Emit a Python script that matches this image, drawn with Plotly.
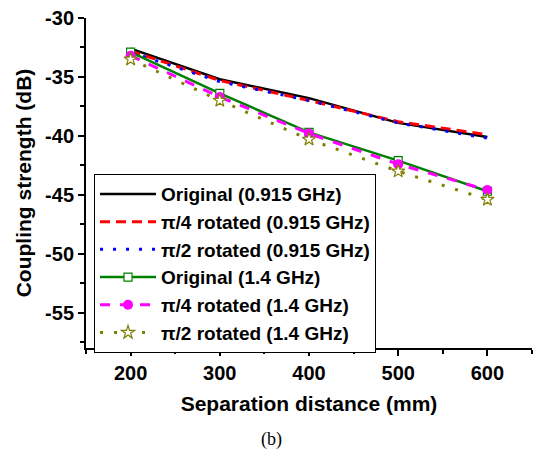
import plotly.graph_objects as go

x = [200, 300, 400, 500, 600]
orig_0915 = [-32.6, -35.2, -36.8, -38.9, -40.1]
rot4_0915 = [-32.8, -35.3, -37.0, -38.8, -39.9]
rot2_0915 = [-32.9, -35.4, -37.0, -38.9, -40.2]
orig_14 = [-32.9, -36.4, -39.7, -42.1, -44.7]
rot4_14 = [-33.2, -36.7, -39.8, -42.4, -44.6]
rot2_14 = [-33.5, -37.0, -40.3, -43.0, -45.4]

names = ["Original (0.915 GHz)", "π/4 rotated (0.915 GHz)", "π/2 rotated (0.915 GHz)",
         "Original (1.4 GHz)", "π/4 rotated (1.4 GHz)", "π/2 rotated (1.4 GHz)"]

yticks = [-30, -35, -40, -45, -50, -55]
xticks = [200, 300, 400, 500, 600]

fig = go.Figure()
fig.add_trace(go.Scatter(x=x, y=orig_0915, name=names[0], mode="lines",
                         line=dict(color="black", width=2.5)))
fig.add_trace(go.Scatter(x=x, y=rot4_0915, name=names[1], mode="lines",
                         line=dict(color="red", width=3, dash="10px,6px")))
fig.add_trace(go.Scatter(x=x, y=rot2_0915, name=names[2], mode="lines",
                         line=dict(color="blue", width=3, dash="3px,10px")))
fig.add_trace(go.Scatter(x=x, y=orig_14, name=names[3], mode="lines+markers",
                         line=dict(color="#008000", width=2.5),
                         marker=dict(symbol="square", size=8, color="white",
                                     line=dict(color="#008000", width=1.2))))
fig.add_trace(go.Scatter(x=x, y=rot4_14, name=names[4], mode="lines+markers",
                         line=dict(color="#ff00ff", width=3, dash="10px,10px"),
                         marker=dict(symbol="circle", size=10, color="#ff00ff")))
fig.add_trace(go.Scatter(x=x, y=rot2_14, name=names[5], mode="lines+markers",
                         line=dict(color="#808000", width=3, dash="3px,11px"),
                         marker=dict(symbol="star", size=10, color="white",
                                     line=dict(color="#808000", width=1.2))))

axis_common = dict(showgrid=False, zeroline=False, showline=True, linecolor="black",
                   linewidth=2, ticks="outside", ticklen=6, tickwidth=2, tickcolor="black",
                   tickfont=dict(family="Liberation Sans", size=20, color="black", weight="bold"),
                   mirror=False)

fig.update_layout(
    width=539, height=452,
    margin=dict(l=86, r=7, t=16, b=104),
    paper_bgcolor="white", plot_bgcolor="white",
    font=dict(family="Liberation Sans", color="black"),
    xaxis=dict(range=[150, 650], tickvals=xticks, ticktext=[str(v) for v in xticks],
               minor=dict(ticks="outside", ticklen=4, tickwidth=2, tickcolor="black", dtick=50,
                          tick0=150),
               title=dict(text="Separation distance (mm)", standoff=13,
                          font=dict(family="Liberation Sans", size=21, color="black", weight="bold")),
               **axis_common),
    yaxis=dict(range=[-58, -30], tickvals=yticks, ticktext=[str(v) for v in yticks],
               minor=dict(ticks="outside", ticklen=4, tickwidth=2, tickcolor="black", dtick=2.5,
                          tick0=-30),
               title=dict(text="Coupling strength (dB)", standoff=8,
                          font=dict(family="Liberation Sans", size=21, color="black", weight="bold")),
               **axis_common),
    legend=dict(x=0.018, y=0.527, xanchor="left", yanchor="top",
                bordercolor="black", borderwidth=1, bgcolor="white",
                font=dict(family="Liberation Sans", size=19, color="black", weight="bold"),
                itemwidth=56, traceorder="normal"),
    showlegend=True,
)

fig.add_annotation(text="(b)", xref="paper", yref="paper", x=(271 - 86) / 446, y=-(440 - 348) / 332,
                   xanchor="center", yanchor="middle", showarrow=False,
                   font=dict(family="Liberation Serif", size=18, color="black"))

fig.write_html("out.html", config={"displayModeBar": False},
               post_script="document.body.style.margin='0px';")
